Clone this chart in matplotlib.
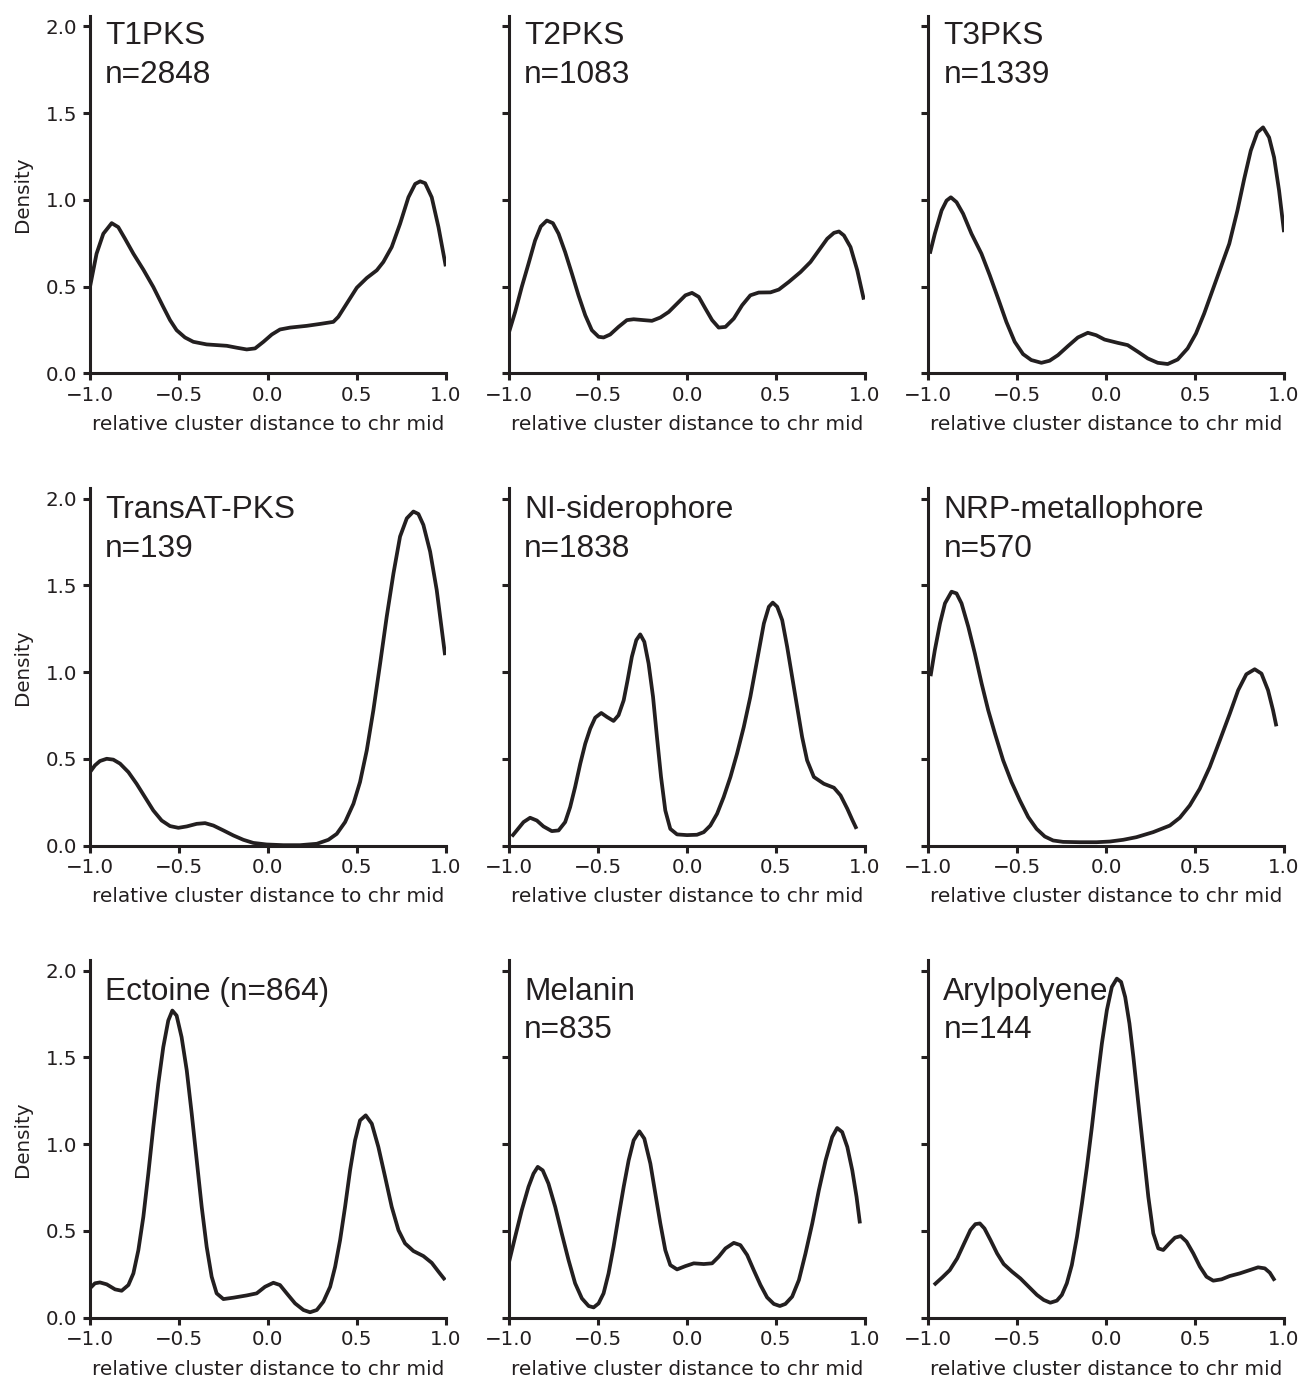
import matplotlib
matplotlib.use("Agg")
import matplotlib.pyplot as plt

# curves (x = relative distance, y = density)
t1pks_x = [-1.0, -0.963, -0.925, -0.878, -0.841, -0.803, -0.756, -0.700, -0.644, -0.588, -0.550,
           -0.513, -0.466, -0.419, -0.344, -0.231, -0.175, -0.119, -0.072, -0.025, 0.022, 0.068,
           0.125, 0.218, 0.293, 0.368, 0.396, 0.443, 0.500, 0.556, 0.612, 0.649, 0.696, 0.743,
           0.790, 0.828, 0.856, 0.884, 0.921, 0.959, 1.0]
t1pks_y = [0.498, 0.690, 0.805, 0.866, 0.843, 0.776, 0.690, 0.598, 0.498, 0.383, 0.307,
           0.249, 0.207, 0.182, 0.167, 0.159, 0.148, 0.138, 0.144, 0.182, 0.224, 0.253,
           0.264, 0.274, 0.285, 0.297, 0.326, 0.402, 0.494, 0.550, 0.594, 0.642, 0.728, 0.862,
           1.015, 1.092, 1.107, 1.096, 1.015, 0.843, 0.617]

t2pks_x = [-1.0, -0.966, -0.929, -0.891, -0.854, -0.822, -0.788, -0.754, -0.722, -0.685, -0.647,
           -0.610, -0.572, -0.535, -0.497, -0.469, -0.432, -0.385, -0.338, -0.300, -0.244, -0.197,
           -0.150, -0.103, -0.056, -0.009, 0.028, 0.066, 0.103, 0.141, 0.178, 0.216, 0.263, 0.310,
           0.356, 0.403, 0.469, 0.516, 0.572, 0.638, 0.694, 0.741, 0.788, 0.826, 0.854, 0.882,
           0.919, 0.957, 0.994]
t2pks_y = [0.239, 0.354, 0.498, 0.632, 0.766, 0.847, 0.881, 0.866, 0.805, 0.699, 0.575,
           0.450, 0.335, 0.249, 0.211, 0.207, 0.224, 0.268, 0.307, 0.312, 0.307, 0.303,
           0.322, 0.354, 0.402, 0.450, 0.464, 0.441, 0.374, 0.307, 0.264, 0.268, 0.316, 0.393,
           0.450, 0.466, 0.467, 0.483, 0.527, 0.584, 0.642, 0.709, 0.776, 0.810, 0.818, 0.795,
           0.728, 0.594, 0.425]

t3pks_x = [-0.991, -0.963, -0.925, -0.897, -0.873, -0.841, -0.804, -0.757, -0.701, -0.654, -0.607,
           -0.561, -0.514, -0.467, -0.421, -0.364, -0.318, -0.271, -0.215, -0.159, -0.103, -0.056,
           -0.009, 0.065, 0.121, 0.178, 0.234, 0.290, 0.346, 0.402, 0.458, 0.505, 0.551, 0.598,
           0.645, 0.692, 0.738, 0.776, 0.813, 0.850, 0.882, 0.916, 0.944, 0.972, 1.0]
t3pks_y = [0.690, 0.805, 0.939, 0.996, 1.015, 0.987, 0.920, 0.805, 0.690, 0.565, 0.431,
           0.297, 0.182, 0.111, 0.077, 0.061, 0.073, 0.105, 0.157, 0.207, 0.234, 0.220,
           0.195, 0.176, 0.163, 0.125, 0.086, 0.061, 0.054, 0.080, 0.144, 0.230, 0.345, 0.479,
           0.613, 0.747, 0.939, 1.121, 1.284, 1.389, 1.418, 1.360, 1.245, 1.054, 0.814]

transat_x = [-1.0, -0.972, -0.944, -0.906, -0.869, -0.831, -0.784, -0.738, -0.691, -0.644, -0.597,
             -0.550, -0.503, -0.456, -0.400, -0.353, -0.306, -0.250, -0.194, -0.138, -0.082, -0.007,
             0.087, 0.181, 0.275, 0.340, 0.387, 0.434, 0.481, 0.518, 0.556, 0.593, 0.631, 0.668,
             0.706, 0.743, 0.781, 0.818, 0.846, 0.874, 0.912, 0.949, 0.996]
transat_y = [0.423, 0.462, 0.487, 0.500, 0.495, 0.472, 0.423, 0.356, 0.279, 0.202, 0.144,
             0.112, 0.102, 0.110, 0.125, 0.129, 0.115, 0.087, 0.058, 0.033, 0.015, 0.006,
             0.002, 0.002, 0.010, 0.033, 0.067, 0.135, 0.241, 0.366, 0.549, 0.780, 1.049, 1.319,
             1.569, 1.781, 1.886, 1.925, 1.911, 1.848, 1.694, 1.473, 1.097]

nisid_x = [-0.985, -0.957, -0.919, -0.882, -0.844, -0.807, -0.760, -0.722, -0.685, -0.657, -0.629,
           -0.600, -0.572, -0.544, -0.516, -0.482, -0.450, -0.413, -0.385, -0.356, -0.334, -0.310,
           -0.285, -0.263, -0.240, -0.216, -0.191, -0.169, -0.146, -0.122, -0.094, -0.056, 0.000,
           0.056, 0.094, 0.131, 0.169, 0.206, 0.244, 0.281, 0.319, 0.356, 0.394, 0.432, 0.460,
           0.482, 0.507, 0.535, 0.563, 0.591, 0.619, 0.647, 0.675, 0.713, 0.769, 0.826, 0.863,
           0.901, 0.929, 0.953]
nisid_y = [0.052, 0.087, 0.135, 0.160, 0.144, 0.110, 0.083, 0.087, 0.135, 0.221, 0.337,
           0.472, 0.587, 0.674, 0.737, 0.764, 0.741, 0.718, 0.751, 0.837, 0.953, 1.088,
           1.184, 1.217, 1.174, 1.049, 0.857, 0.626, 0.395, 0.202, 0.096, 0.064, 0.060,
           0.062, 0.077, 0.115, 0.183, 0.279, 0.395, 0.529, 0.683, 0.857, 1.068, 1.280, 1.376,
           1.400, 1.376, 1.299, 1.145, 0.972, 0.799, 0.626, 0.491, 0.395, 0.356, 0.333, 0.289,
           0.212, 0.148, 0.096]

nrp_x = [-0.987, -0.963, -0.934, -0.906, -0.869, -0.841, -0.813, -0.775, -0.738, -0.700, -0.663,
         -0.625, -0.579, -0.532, -0.485, -0.438, -0.391, -0.345, -0.298, -0.242, -0.148, -0.054,
         0.021, 0.096, 0.170, 0.264, 0.358, 0.414, 0.470, 0.526, 0.582, 0.639, 0.695, 0.742,
         0.788, 0.835, 0.873, 0.910, 0.938, 0.957]
nrp_y = [0.976, 1.126, 1.280, 1.396, 1.463, 1.453, 1.396, 1.261, 1.107, 0.934, 0.780,
         0.645, 0.491, 0.366, 0.260, 0.164, 0.096, 0.052, 0.029, 0.021, 0.019, 0.019,
         0.023, 0.033, 0.048, 0.077, 0.115, 0.160, 0.231, 0.327, 0.452, 0.606, 0.760, 0.895,
         0.987, 1.016, 0.991, 0.895, 0.780, 0.687]

ectoine_x = [-1.0, -0.972, -0.944, -0.906, -0.859, -0.822, -0.784, -0.756, -0.728, -0.700, -0.672,
             -0.644, -0.616, -0.588, -0.560, -0.537, -0.513, -0.485, -0.456, -0.428, -0.400, -0.372,
             -0.344, -0.316, -0.288, -0.250, -0.194, -0.119, -0.063, -0.016, 0.031, 0.068, 0.106,
             0.153, 0.200, 0.237, 0.275, 0.312, 0.350, 0.378, 0.406, 0.434, 0.462, 0.490, 0.518,
             0.550, 0.584, 0.621, 0.659, 0.696, 0.734, 0.771, 0.818, 0.874, 0.921, 0.959, 0.996]
ectoine_y = [0.169, 0.198, 0.203, 0.192, 0.163, 0.155, 0.188, 0.255, 0.389, 0.581, 0.830,
             1.099, 1.348, 1.559, 1.712, 1.770, 1.741, 1.617, 1.425, 1.175, 0.907, 0.639,
             0.408, 0.236, 0.140, 0.107, 0.115, 0.128, 0.140, 0.178, 0.201, 0.188, 0.140,
             0.082, 0.044, 0.031, 0.044, 0.092, 0.178, 0.293, 0.447, 0.639, 0.849, 1.022, 1.137,
             1.166, 1.118, 0.984, 0.811, 0.639, 0.504, 0.428, 0.384, 0.355, 0.316, 0.265, 0.217]

melanin_x = [-1.0, -0.966, -0.929, -0.891, -0.863, -0.839, -0.811, -0.779, -0.741, -0.704, -0.666,
             -0.629, -0.591, -0.553, -0.525, -0.497, -0.469, -0.441, -0.413, -0.385, -0.356, -0.328,
             -0.300, -0.268, -0.240, -0.206, -0.178, -0.150, -0.122, -0.094, -0.056, -0.009, 0.038,
             0.094, 0.141, 0.178, 0.216, 0.263, 0.300, 0.338, 0.375, 0.413, 0.450, 0.488, 0.522,
             0.553, 0.591, 0.629, 0.666, 0.704, 0.741, 0.779, 0.816, 0.844, 0.872, 0.901, 0.929,
             0.953, 0.972]
melanin_y = [0.322, 0.466, 0.619, 0.754, 0.830, 0.869, 0.849, 0.773, 0.639, 0.485, 0.332,
             0.198, 0.111, 0.067, 0.059, 0.082, 0.140, 0.255, 0.408, 0.581, 0.754, 0.907,
             1.022, 1.074, 1.032, 0.888, 0.715, 0.543, 0.389, 0.303, 0.278, 0.297, 0.313,
             0.309, 0.313, 0.351, 0.399, 0.431, 0.418, 0.361, 0.274, 0.188, 0.117, 0.079, 0.067,
             0.079, 0.121, 0.217, 0.370, 0.543, 0.734, 0.907, 1.041, 1.093, 1.070, 0.984, 0.849,
             0.696, 0.543]

aryl_x = [-0.968, -0.921, -0.879, -0.837, -0.800, -0.763, -0.735, -0.710, -0.684, -0.650, -0.613,
          -0.576, -0.529, -0.482, -0.436, -0.389, -0.351, -0.314, -0.277, -0.249, -0.221, -0.193,
          -0.164, -0.136, -0.108, -0.080, -0.052, -0.024, 0.004, 0.032, 0.060, 0.084, 0.107,
          0.131, 0.153, 0.181, 0.209, 0.237, 0.265, 0.293, 0.321, 0.355, 0.387, 0.419, 0.452,
          0.490, 0.527, 0.564, 0.602, 0.649, 0.695, 0.751, 0.807, 0.854, 0.892, 0.920, 0.948]
aryl_y = [0.188, 0.232, 0.274, 0.342, 0.424, 0.505, 0.539, 0.543, 0.514, 0.447, 0.370,
          0.309, 0.265, 0.226, 0.179, 0.131, 0.102, 0.086, 0.098, 0.131, 0.198, 0.303,
          0.466, 0.658, 0.869, 1.100, 1.349, 1.580, 1.772, 1.906, 1.954, 1.935, 1.848,
          1.695, 1.503, 1.234, 0.965, 0.697, 0.486, 0.399, 0.390, 0.428, 0.461, 0.470, 0.438,
          0.370, 0.294, 0.236, 0.213, 0.221, 0.240, 0.255, 0.274, 0.290, 0.284, 0.259, 0.213]

labels = ["T1PKS\nn=2848", "T2PKS\nn=1083", "T3PKS\nn=1339",
          "TransAT-PKS\nn=139", "NI-siderophore\nn=1838", "NRP-metallophore\nn=570",
          "Ectoine (n=864)", "Melanin\nn=835", "Arylpolyene\nn=144"]
curves = [(t1pks_x, t1pks_y), (t2pks_x, t2pks_y), (t3pks_x, t3pks_y),
          (transat_x, transat_y), (nisid_x, nisid_y), (nrp_x, nrp_y),
          (ectoine_x, ectoine_y), (melanin_x, melanin_y), (aryl_x, aryl_y)]
label_top = [2.03, 2.03, 2.03, 2.02, 2.02, 2.02, 1.965, 1.965, 1.965]

ink = "#231f20"
plt.rcParams["axes.edgecolor"] = ink
plt.rcParams["xtick.color"] = ink
plt.rcParams["ytick.color"] = ink
plt.rcParams["axes.labelcolor"] = ink

fig, axes = plt.subplots(3, 3, figsize=(13.04, 13.78), dpi=100, sharey=True)
fig.subplots_adjust(left=0.069, right=0.9847, bottom=0.0438, top=0.9884,
                    wspace=0.178, hspace=0.321)

for i, ax in enumerate(axes.flat):
    xs, ys = curves[i]
    ax.plot(xs, ys, color=ink, lw=2.7, solid_joinstyle="round", solid_capstyle="butt")
    ax.set_xlim(-1.0, 1.0)
    ax.set_ylim(0, 2.06)
    ax.set_xticks([-1.0, -0.5, 0.0, 0.5, 1.0])
    ax.set_yticks([0.0, 0.5, 1.0, 1.5, 2.0])
    ax.spines["top"].set_visible(False)
    ax.spines["right"].set_visible(False)
    for s in ("left", "bottom"):
        ax.spines[s].set_linewidth(2.2)
    ax.tick_params(width=2.2, length=5, labelsize=14.3, pad=4)
    ax.set_xlabel("relative cluster distance to chr mid", fontsize=14.5, labelpad=7.5)
    if i % 3 == 0:
        ax.set_ylabel("Density", fontsize=14.3, labelpad=10)
    ax.text(-0.915, label_top[i], labels[i], ha="left", va="top",
            fontsize=22.8, family="Liberation Sans", color=ink, linespacing=1.38)

fig.savefig("out.png", dpi=100)
